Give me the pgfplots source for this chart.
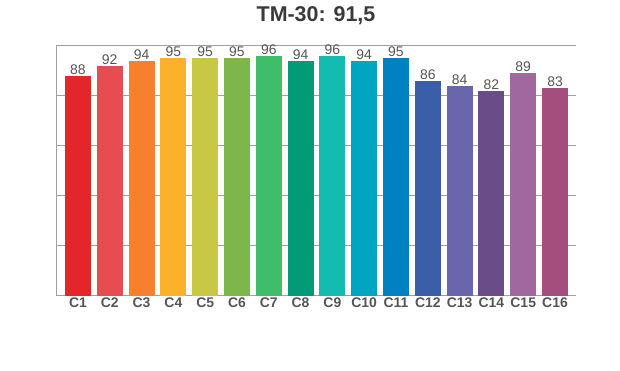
\documentclass[border=0pt]{standalone}
\usepackage{pgfplots}
\pgfplotsset{compat=1.18}
\usepackage{fontspec}
\setmainfont{Liberation Sans}
\definecolor{c1}{HTML}{E4262A}
\definecolor{c2}{HTML}{E64C50}
\definecolor{c3}{HTML}{F7802F}
\definecolor{c4}{HTML}{FBB22A}
\definecolor{c5}{HTML}{C9C844}
\definecolor{c6}{HTML}{7DB64A}
\definecolor{c7}{HTML}{40BD6A}
\definecolor{c8}{HTML}{039B77}
\definecolor{c9}{HTML}{13BBB0}
\definecolor{c10}{HTML}{00A5C2}
\definecolor{c11}{HTML}{0082C2}
\definecolor{c12}{HTML}{3B5EA8}
\definecolor{c13}{HTML}{6967AC}
\definecolor{c14}{HTML}{6A4C88}
\definecolor{c15}{HTML}{A0689E}
\definecolor{c16}{HTML}{A44E7E}
\definecolor{gridc}{HTML}{A0A0A0}
\definecolor{txt}{HTML}{555555}
\definecolor{ttl}{HTML}{3A3A3A}
\begin{document}
\begin{tikzpicture}[x=1bp,y=1bp]
\useasboundingbox (0,0) rectangle (620,370);
\node[font=\bfseries\fontsize{21.5}{22}\selectfont, text=ttl, anchor=base] at (316,349) {TM-30: 91,5};
\begin{axis}[
  at={(56bp,74.4bp)}, anchor=south west,
  scale only axis, width=520bp, height=249.6bp,
  xmin=0.31, xmax=16.66, ymin=0, ymax=100,
  /pgf/number format/assume math mode=true,
  axis x line*=bottom, axis y line*=left,
  axis line style={gridc, line width=1bp},
  ybar, bar width=26bp, bar shift=0pt,
  ytick={0,20,40,60,80,100}, yticklabels={},
  ymajorgrids, grid style={gridc, line width=1bp},
  major tick length=0pt,
  xtick={1,...,16},
  xticklabels={C1,C2,C3,C4,C5,C6,C7,C8,C9,C10,C11,C12,C13,C14,C15,C16},
  xticklabel style={font=\bfseries\fontsize{14}{14}\selectfont, text=txt, inner sep=0pt, anchor=north, yshift=-2bp},
  nodes near coords,
  every node near coord/.append style={font=\fontsize{14}{14}\selectfont, text=txt, inner sep=0pt, anchor=base, yshift=1.5bp},
  clip=false,
]
\addplot[fill=c1, draw=none] coordinates {(1,88)};
\addplot[fill=c2, draw=none] coordinates {(2,92)};
\addplot[fill=c3, draw=none] coordinates {(3,94)};
\addplot[fill=c4, draw=none] coordinates {(4,95)};
\addplot[fill=c5, draw=none] coordinates {(5,95)};
\addplot[fill=c6, draw=none] coordinates {(6,95)};
\addplot[fill=c7, draw=none] coordinates {(7,96)};
\addplot[fill=c8, draw=none] coordinates {(8,94)};
\addplot[fill=c9, draw=none] coordinates {(9,96)};
\addplot[fill=c10, draw=none] coordinates {(10,94)};
\addplot[fill=c11, draw=none] coordinates {(11,95)};
\addplot[fill=c12, draw=none] coordinates {(12,86)};
\addplot[fill=c13, draw=none] coordinates {(13,84)};
\addplot[fill=c14, draw=none] coordinates {(14,82)};
\addplot[fill=c15, draw=none] coordinates {(15,89)};
\addplot[fill=c16, draw=none] coordinates {(16,83)};
\end{axis}
\end{tikzpicture}
\end{document}
